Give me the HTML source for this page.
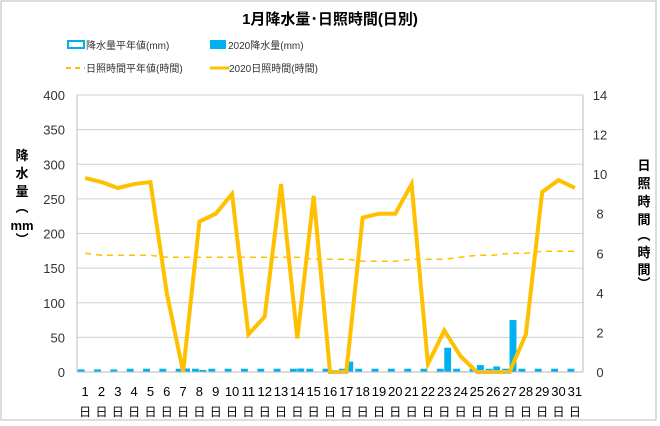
<!DOCTYPE html>
<html><head><meta charset="utf-8">
<style>
body{margin:0;background:#fff;}
svg text{font-family:"Liberation Sans","Noto Sans CJK JP",sans-serif;}
</style></head>
<body>
<svg id="chart" width="660" height="421" xmlns="http://www.w3.org/2000/svg">
<rect x="1" y="1" width="655" height="419" fill="#fff" stroke="#bbb"/>
<text x="330" y="24" text-anchor="middle" font-size="15" font-weight="bold" fill="#000">1月降水量･日照時間(日別)</text>
<g font-size="10" fill="#333">
 <rect x="68" y="41" width="16" height="7" fill="#fff" stroke="#00b0f0" stroke-width="2"/>
 <text x="86" y="49">降水量平年値(mm)</text>
 <rect x="210" y="40" width="16" height="9" fill="#00b0f0"/>
 <text x="228" y="49">2020降水量(mm)</text>
 <line x1="66" y1="68" x2="85" y2="68" stroke="#ffc000" stroke-width="2" stroke-dasharray="5,4"/>
 <text x="86" y="72">日照時間平年値(時間)</text>
 <line x1="210" y1="68" x2="229" y2="68" stroke="#ffc000" stroke-width="3"/>
 <text x="229" y="72">2020日照時間(時間)</text>
</g>
<g id="grid"></g>
<g id="bars"></g>
<g id="lines"></g>
<g id="axes"></g>
<text x="20" y="160" font-size="13" font-weight="bold" fill="#000" text-anchor="middle">
<tspan x="22" dy="0">降</tspan><tspan x="22" dy="18">水</tspan><tspan x="22" dy="18">量</tspan><tspan x="22" dy="16">︵</tspan><tspan x="22" dy="18">mm</tspan><tspan x="22" dy="14">︶</tspan></text>
<text x="644" y="170" font-size="13" font-weight="bold" fill="#000" text-anchor="middle">
<tspan x="644" dy="0">日</tspan><tspan x="644" dy="18">照</tspan><tspan x="644" dy="18">時</tspan><tspan x="644" dy="18">間</tspan><tspan x="644" dy="16">︵</tspan><tspan x="644" dy="17">時</tspan><tspan x="644" dy="17">間</tspan><tspan x="644" dy="14">︶</tspan></text>
</svg>
<script>
const days=[1,2,3,4,5,6,7,8,9,10,11,12,13,14,15,16,17,18,19,20,21,22,23,24,25,26,27,28,29,30,31];
const precipAvg=[3,3,3,4,4,4,4,4,4,4,4,4,4,4,4,4,4,4,4,4,4,4,4,4,4,4,4,4,4,4,4];
const precip2020=[0,0,0,0,0,0,5,3,0,0,0,0,0,5,0,0,15,0,0,0,0,0,35,1,10,8,75,0,0,0,0];
const sunAvg=[6.0,5.9,5.9,5.9,5.9,5.8,5.8,5.8,5.8,5.8,5.8,5.8,5.8,5.8,5.7,5.7,5.7,5.6,5.6,5.6,5.7,5.7,5.7,5.8,5.9,5.9,6.0,6.0,6.1,6.1,6.1];
const sun2020=[9.8,9.6,9.3,9.5,9.6,4.0,0,7.6,8.0,9.0,1.9,2.8,9.5,1.7,8.9,0,0,7.8,8.0,8.0,9.5,0.4,2.1,0.8,0,0,0,1.9,9.1,9.7,9.3];
const leftTicks=[0,50,100,150,200,250,300,350,400];
const rightTicks=[0,2,4,6,8,10,12,14];
const NS="http://www.w3.org/2000/svg";
const L=77,R=583,T=95,B=372;
const band=(R-L)/days.length;
const xC=i=>L+band*(i+0.5);
const yL=v=>B-(v/400)*(B-T);
const yR=v=>B-(v/14)*(B-T);
function mk(tag,attrs,parent){const e=document.createElementNS(NS,tag);for(const k in attrs)e.setAttribute(k,attrs[k]);document.getElementById(parent).appendChild(e);return e;}
leftTicks.forEach(t=>{
 const g=mk('line',{x1:L,x2:R,y1:yL(t),y2:yL(t),stroke:'#d0d0d0','stroke-width':1},'grid');
 
 
 const tx=mk('text',{x:L-12,y:yL(t)+5,'text-anchor':'end','font-size':13,fill:'#333'},'axes');
 tx.textContent=t;
 
 
});
rightTicks.forEach(t=>{
 const tx=mk('text',{x:R+17,y:yR(t)+5,'text-anchor':'middle','font-size':13,fill:'#333'},'axes');
 tx.textContent=t;
 
 
});
let ax=mk('line',{x1:L,x2:L,y1:T,y2:B,stroke:'#bbb'},'axes');


ax=mk('line',{x1:R,x2:R,y1:T,y2:B,stroke:'#bbb'},'axes');


ax=mk('line',{x1:L,x2:R,y1:B,y2:B,stroke:'#bbb'},'axes');


days.forEach((d,i)=>{
 const bw=band*0.36;
 const a=mk('rect',{x:xC(i)-bw-1,y:yL(precipAvg[i]),width:bw,height:B-yL(precipAvg[i]),fill:'#00b0f0',stroke:'#00b0f0','stroke-width':1},'bars');
 
 
 const b=mk('rect',{x:xC(i),y:yL(precip2020[i]),width:bw+1,height:B-yL(precip2020[i]),fill:'#00b0f0'},'bars');
 
 
 const t=mk('text',{x:xC(i),y:396,'text-anchor':'middle','font-size':13,fill:'#000'},'axes');
 t.textContent=d;
 
 
 const t2=mk('text',{x:xC(i),y:416,'text-anchor':'middle','font-size':12,fill:'#000'},'axes');
 t2.textContent='日';
 
 
});
const pa=mk('polyline',{points:sunAvg.map((v,i)=>xC(i)+','+yR(v)).join(' '),fill:'none',stroke:'#ffc000','stroke-width':1.5,'stroke-dasharray':'6,5'},'lines');


const pb=mk('polyline',{points:sun2020.map((v,i)=>xC(i)+','+yR(v)).join(' '),fill:'none',stroke:'#ffc000','stroke-width':4,'stroke-linejoin':'miter'},'lines');


</script>
</body></html>
